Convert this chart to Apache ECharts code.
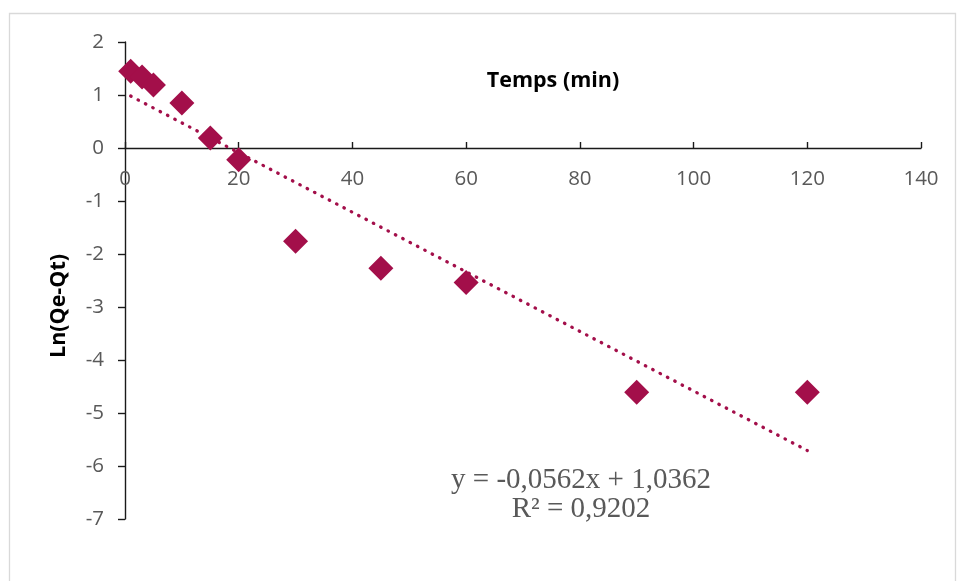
<!DOCTYPE html>
<html>
<head>
<meta charset="utf-8">
<script src="https://cdn.jsdelivr.net/npm/echarts@6/dist/echarts.min.js"></script>
<style>
  html, body { margin: 0; padding: 0; background: #fff; }
  #chart { width: 957px; height: 581px; }
</style>
</head>
<body>
<div id="chart"></div>
<script>
// Contact time (min) and ln(Qe - Qt)
const timeMin = [1, 3, 5, 10, 15, 20, 30, 45, 60, 90, 120];
const lnQeQt = [1.45, 1.34, 1.19, 0.85, 0.19, -0.22, -1.76, -2.27, -2.54, -4.61, -4.61];

// Linear fit shown on the chart
const slope = -0.0562;
const intercept = 1.0362;
const fitRange = [1, 120];
const equationLines = ['y = -0,0562x + 1,0362', 'R² = 0,9202'];

const xTitle = 'Temps (min)';
const yTitle = 'Ln(Qe-Qt)';

const xRange = [0, 140, 20];
const yRange = [-7, 2, 1];

const pointColor = '#a30f4a';
const labelColor = '#595959';
const tickFont = '"Open Sans", "Noto Sans", sans-serif';

const points = timeMin.map((t, i) => [t, lnQeQt[i]]);
const fitLine = fitRange.map(t => [t, intercept + slope * t]);

const W = 957, H = 581;
const grid = { left: 125, right: 36, top: 42, bottom: 62 };
// Lift the horizontal axis (line, ticks and labels) up to y = 0
const gridHeight = H - grid.top - grid.bottom;
const xAxisOffset = -gridHeight * (0 - yRange[0]) / (yRange[1] - yRange[0]);

const chart = echarts.init(document.getElementById('chart'), null, { renderer: 'canvas' });

chart.setOption({
  animation: false,
  backgroundColor: '#ffffff',
  grid: Object.assign({ containLabel: false }, grid),
  xAxis: {
    type: 'value',
    min: xRange[0],
    max: xRange[1],
    interval: xRange[2],
    offset: xAxisOffset,
    axisLine: { onZero: false, lineStyle: { color: '#1a1a1a', width: 1.4 } },
    axisTick: { show: true, inside: true, length: 6, lineStyle: { color: '#1a1a1a', width: 1.4 } },
    axisLabel: { color: labelColor, fontSize: 20.5, fontFamily: tickFont, margin: 21 },
    splitLine: { show: false }
  },
  yAxis: {
    type: 'value',
    min: yRange[0],
    max: yRange[1],
    interval: yRange[2],
    axisLine: { show: true, onZero: false, lineStyle: { color: '#1a1a1a', width: 1.4 } },
    axisTick: { show: true, inside: false, length: 7, lineStyle: { color: '#1a1a1a', width: 1.4 } },
    axisLabel: { color: labelColor, fontSize: 20.5, fontFamily: tickFont, margin: 21 },
    splitLine: { show: false }
  },
  graphic: [
    {
      type: 'rect',
      silent: true,
      z: -10,
      shape: { x: 9.5, y: 13.5, width: 946, height: 620 },
      style: { fill: 'none', stroke: '#d9d9d9', lineWidth: 1.3 }
    },
    {
      type: 'text',
      x: 553, y: 81,
      style: {
        text: xTitle, fill: '#000', font: 'bold 21.5px "Open Sans", sans-serif',
        textAlign: 'center', textVerticalAlign: 'middle'
      }
    },
    {
      type: 'text',
      x: 59, y: 306,
      rotation: Math.PI / 2,
      style: {
        text: yTitle, fill: '#000', font: 'bold 21.5px "Open Sans", sans-serif',
        textAlign: 'center', textVerticalAlign: 'middle'
      }
    },
    {
      type: 'text',
      x: 581, y: 480,
      style: {
        text: equationLines[0], fill: labelColor, font: '29px "Liberation Serif", serif',
        textAlign: 'center', textVerticalAlign: 'middle'
      }
    },
    {
      type: 'text',
      x: 581, y: 509,
      style: {
        text: equationLines[1], fill: labelColor, font: '29px "Liberation Serif", serif',
        textAlign: 'center', textVerticalAlign: 'middle'
      }
    }
  ],
  series: [
    {
      name: 'ln(Qe-Qt)',
      type: 'scatter',
      data: points,
      symbol: 'diamond',
      symbolSize: 25,
      itemStyle: { color: pointColor, opacity: 1 },
      z: 2
    },
    {
      name: 'Linéaire',
      type: 'line',
      data: fitLine,
      showSymbol: false,
      symbol: 'none',
      lineStyle: { color: pointColor, width: 3.3, type: [0.5, 7.8], cap: 'round' },
      z: 3
    }
  ]
});
</script>
</body>
</html>
